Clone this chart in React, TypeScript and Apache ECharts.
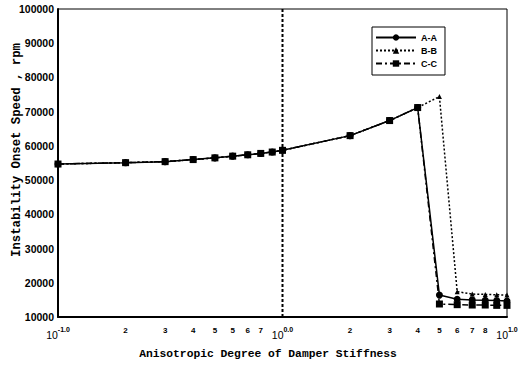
import React, { useEffect, useRef } from "react";
import * as echarts from "echarts";

// ---- data ----
const xValues = [0.1, 0.2, 0.3, 0.4, 0.5, 0.6, 0.7, 0.8, 0.9, 1, 2, 3, 4, 5, 6, 7, 8, 9, 10];
const seriesAA = [54700, 55100, 55400, 56000, 56500, 57000, 57400, 57800, 58200, 58700, 63000, 67400, 71200, 16400, 15200, 15000, 14900, 14800, 14700];
const seriesBB = [54700, 55100, 55400, 56000, 56500, 57000, 57400, 57800, 58200, 58700, 63000, 67400, 71200, 74400, 17400, 16700, 16600, 16500, 16400];
const seriesCC = [54700, 55100, 55400, 56000, 56500, 57000, 57400, 57800, 58200, 58700, 63000, 67400, 71200, 13800, 13600, 13500, 13500, 13400, 13400];
const seriesNames = ["A-A", "B-B", "C-C"];
const xTickValues = [0.1, 0.2, 0.3, 0.4, 0.5, 0.6, 0.7, 0.8, 1, 2, 3, 4, 5, 6, 7, 8, 10];
const xTickLabels = ["10^-1.0", "2", "3", "4", "5", "5", "6", "7", "10^0.0", "2", "3", "4", "5", "6", "7", "8", "10^1.0"];
const yMin = 10000;
const yMax = 100000;
const yInterval = 10000;
const dividerX = 1;
const xTitle = "Anisotropic Degree of Damper Stiffness";
const yTitle = "Instability Onset Speed , rpm";

const toPts = (ys: number[]) => xValues.map((x, i) => [Math.log10(x), ys[i]]);

export default function App() {
  const ref = useRef<HTMLDivElement>(null);
  useEffect(() => {
    if (!ref.current) return;
    const chart = echarts.init(ref.current, null, { renderer: "svg" });
    const tickPos = xTickValues.map((v) => Math.log10(v));
    const fmt = (val: number) => {
      let idx = -1;
      for (let i = 0; i < tickPos.length; i++) if (Math.abs(tickPos[i] - val) < 1e-6) idx = i;
      if (idx < 0) return "";
      const t = xTickLabels[idx];
      if (t.indexOf("^") >= 0) {
        const [b, s] = t.split("^");
        return `{b|${b}}{s|${s}}`;
      }
      return `{d|${t}}`;
    };
    const lineCommon = { color: "#000", width: 1.5 };
    chart.setOption({
      animation: false,
      backgroundColor: "#fff",
      grid: { left: 58, right: 24, top: 9, bottom: 48, show: true, borderColor: "#000", borderWidth: 1 },
      legend: {
        orient: "vertical",
        left: 372,
        top: 27,
        padding: [6, 8, 7, 3],
        itemGap: 4,
        itemWidth: 40,
        itemHeight: 8,
        borderColor: "#000",
        borderWidth: 1,
        backgroundColor: "#fff",
        data: seriesNames,
        textStyle: { fontFamily: "Liberation Sans", fontWeight: "bold", fontSize: 9, color: "#000", lineHeight: 8 },
      },
      xAxis: {
        type: "value",
        min: -1,
        max: 1,
        splitLine: { show: false },
        axisLine: { onZero: false, lineStyle: { color: "#000", width: 2 } },
        axisTick: { show: false },
        axisLabel: {
          customValues: tickPos,
          formatter: fmt,
          margin: 9,
          color: "#000",
          rich: {
            d: { fontFamily: "Liberation Sans", fontWeight: "bold", fontSize: 8, lineHeight: 8, color: "#000" },
            b: { fontFamily: "Liberation Sans", fontSize: 10.5, lineHeight: 18, color: "#000" },
            s: { fontFamily: "Liberation Sans", fontWeight: "bold", fontSize: 7, lineHeight: 8, verticalAlign: "top", color: "#000" },
          },
        },
      },
      yAxis: {
        type: "value",
        min: yMin,
        max: yMax,
        interval: yInterval,
        splitLine: { show: false },
        axisLine: { show: true, onZero: false, lineStyle: { color: "#000", width: 2 } },
        axisTick: { show: false },
        axisLabel: {
          margin: 4,
          padding: [8, 0, 0, 0],
          formatter: (v: number) => String(v),
          fontFamily: "Liberation Sans",
          fontWeight: "bold",
          fontSize: 10.5,
          color: "#000",
        },
      },
      graphic: [
        {
          type: "text",
          x: 17,
          y: 150,
          rotation: Math.PI / 2,
          style: {
            text: yTitle,
            fontFamily: "Liberation Mono",
            fontWeight: "bold",
            fontSize: 12.3,
            fill: "#000",
            align: "center",
            verticalAlign: "middle",
          },
        },
        {
          type: "text",
          x: 268,
          y: 354,
          style: {
            text: xTitle,
            fontFamily: "Liberation Mono",
            fontWeight: "bold",
            fontSize: 11.3,
            fill: "#000",
            align: "center",
            verticalAlign: "middle",
          },
        },
      ],
      series: [
        {
          name: "divider",
          type: "line",
          data: [
            [Math.log10(dividerX), yMin],
            [Math.log10(dividerX), yMax],
          ],
          symbol: "none",
          silent: true,
          lineStyle: { color: "#000", width: 2, type: [3, 2] },
          z: 1,
        },
        {
          name: seriesNames[2],
          type: "line",
          data: toPts(seriesCC),
          symbol: "rect",
          symbolSize: 7,
          itemStyle: { color: "#000" },
          lineStyle: { ...lineCommon, type: [6, 3, 2, 3] },
          z: 2,
        },
        {
          name: seriesNames[1],
          type: "line",
          data: toPts(seriesBB),
          symbol: "triangle",
          symbolSize: 5,
          itemStyle: { color: "#000" },
          lineStyle: { ...lineCommon, type: [2, 2] },
          z: 3,
        },
        {
          name: seriesNames[0],
          type: "line",
          data: toPts(seriesAA),
          symbol: "circle",
          symbolSize: 7,
          itemStyle: { color: "#000" },
          lineStyle: { ...lineCommon, type: "solid" },
          z: 4,
        },
      ],
    });
    return () => chart.dispose();
  }, []);
  return (
    <div
      ref={ref}
      style={{ position: "fixed", left: 0, top: 0, width: 531, height: 365, background: "#fff" }}
    />
  );
}
